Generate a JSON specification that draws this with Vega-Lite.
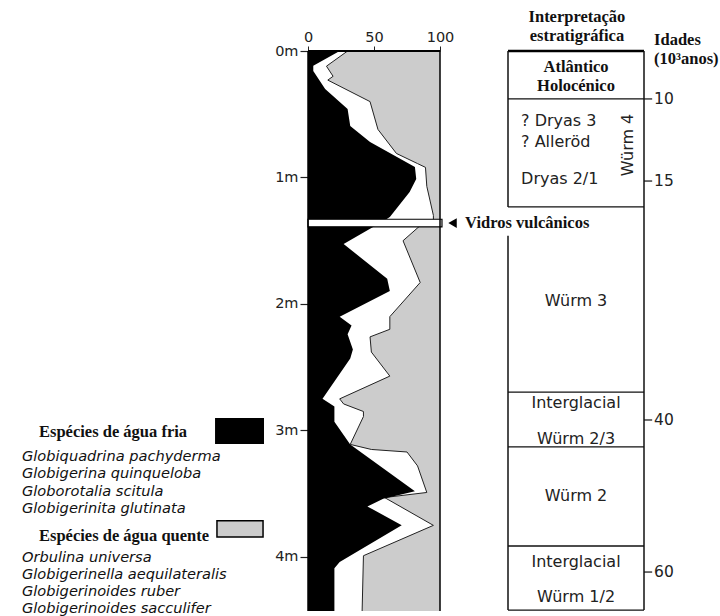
{
  "$schema": "https://vega.github.io/schema/vega-lite/v6.json",
  "padding": {"left": 0, "top": 8, "right": 0, "bottom": 0},
  "background": "white",
  "bounds": "flush",
  "spacing": 68,
  "config": {"view": {"stroke": null}, "font": "DejaVu Sans", "axis": {"grid": false}},
  "datasets": {
    "cold": [
      {"d": 0.0, "pct": 24}, {"d": 0.116, "pct": 4}, {"d": 0.158, "pct": 4}, {"d": 0.30, "pct": 13},
      {"d": 0.458, "pct": 30}, {"d": 0.593, "pct": 32}, {"d": 0.719, "pct": 47}, {"d": 0.917, "pct": 81},
      {"d": 1.012, "pct": 82}, {"d": 1.115, "pct": 77}, {"d": 1.312, "pct": 62}, {"d": 1.36, "pct": 55},
      {"d": 1.40, "pct": 48}, {"d": 1.526, "pct": 27}, {"d": 1.80, "pct": 60}, {"d": 1.897, "pct": 62},
      {"d": 2.10, "pct": 24}, {"d": 2.17, "pct": 33}, {"d": 2.24, "pct": 30}, {"d": 2.36, "pct": 34},
      {"d": 2.43, "pct": 32}, {"d": 2.75, "pct": 11}, {"d": 2.81, "pct": 20}, {"d": 2.93, "pct": 20},
      {"d": 3.11, "pct": 32}, {"d": 3.48, "pct": 81}, {"d": 3.54, "pct": 57}, {"d": 3.60, "pct": 45},
      {"d": 3.75, "pct": 71}, {"d": 4.04, "pct": 24}, {"d": 4.09, "pct": 20}, {"d": 4.427, "pct": 20}
    ],
    "warm": [
      {"d": 0.0, "edge": 30}, {"d": 0.12, "edge": 14}, {"d": 0.20, "edge": 19}, {"d": 0.23, "edge": 15},
      {"d": 0.40, "edge": 47}, {"d": 0.62, "edge": 53}, {"d": 0.81, "edge": 67}, {"d": 0.89, "edge": 83},
      {"d": 0.92, "edge": 89}, {"d": 1.07, "edge": 90}, {"d": 1.30, "edge": 95}, {"d": 1.34, "edge": 95},
      {"d": 1.38, "edge": 85}, {"d": 1.50, "edge": 72}, {"d": 1.83, "edge": 85}, {"d": 2.10, "edge": 62},
      {"d": 2.20, "edge": 62}, {"d": 2.26, "edge": 47}, {"d": 2.38, "edge": 48}, {"d": 2.57, "edge": 62},
      {"d": 2.75, "edge": 24}, {"d": 2.79, "edge": 27}, {"d": 2.85, "edge": 42}, {"d": 2.89, "edge": 42},
      {"d": 3.11, "edge": 32}, {"d": 3.15, "edge": 48}, {"d": 3.17, "edge": 75}, {"d": 3.28, "edge": 83},
      {"d": 3.49, "edge": 90}, {"d": 3.53, "edge": 58}, {"d": 3.75, "edge": 95}, {"d": 3.99, "edge": 42},
      {"d": 4.427, "edge": 41}
    ],
    "legendHeads": [
      {"text": "Espécies de água fria", "line": 0},
      {"text": "Espécies de água quente", "line": 6.0}
    ],
    "legendSpecies": [
      {"text": "Globiquadrina pachyderma", "line": 1.45},
      {"text": "Globigerina quinqueloba", "line": 2.45},
      {"text": "Globorotalia scitula", "line": 3.45},
      {"text": "Globigerinita glutinata", "line": 4.45},
      {"text": "Orbulina universa", "line": 7.27},
      {"text": "Globigerinella aequilateralis", "line": 8.27},
      {"text": "Globigerinoides ruber", "line": 9.25},
      {"text": "Globigerinoides sacculifer", "line": 10.23}
    ],
    "boundaries": [
      {"d": 0.379}, {"d": 1.233}, {"d": 2.696}, {"d": 3.130}, {"d": 3.913}, {"d": 4.42}
    ],
    "leftEdge": [
      {"from": 0, "to": 1.233}, {"from": 1.46, "to": 4.42}
    ],
    "unitsSerif": [
      {"label": "Atlântico", "d": 0.126}, {"label": "Holocénico", "d": 0.277}
    ],
    "unitsCenter": [
      {"label": "Würm 3", "d": 1.976}, {"label": "Interglacial", "d": 2.783},
      {"label": "Würm 2/3", "d": 3.067}, {"label": "Würm 2", "d": 3.518},
      {"label": "Interglacial", "d": 4.040}, {"label": "Würm 1/2", "d": 4.316}
    ],
    "unitsLeft": [
      {"label": "? Dryas 3", "d": 0.553}, {"label": "? Alleröd", "d": 0.719}, {"label": "Dryas 2/1", "d": 1.012}
    ],
    "ages": [
      {"age": "10", "d": 0.379}, {"age": "15", "d": 1.028}, {"age": "40", "d": 2.917}, {"age": "60", "d": 4.119}
    ],
    "headers": [
      {"label": "Interpretação", "d": -0.269}, {"label": "estratigráfica", "d": -0.119}
    ],
    "ageHeaders": [
      {"label": "Idades", "d": -0.085}, {"label": "(10³anos)", "d": 0.065}
    ]
  },
  "hconcat": [
    {
      "width": 240,
      "height": 560,
      "layer": [
        {
          "data": {"values": [{}]},
          "mark": {"type": "rect", "color": "black"},
          "encoding": {
            "x": {"datum": 89.6, "type": "quantitative", "scale": {"domain": [0, 100], "nice": false, "zero": false}, "axis": null},
            "x2": {"datum": 110},
            "y": {"datum": -0.81, "type": "quantitative", "scale": {"domain": [-22.02, 10.35], "nice": false, "zero": false, "reverse": true}, "axis": null},
            "y2": {"datum": 0.69}
          }
        },
        {
          "data": {"values": [{}]},
          "mark": {"type": "rect", "fill": "#cccccc", "stroke": "black", "strokeWidth": 1.5},
          "encoding": {
            "x": {"datum": 90.4, "type": "quantitative", "axis": null},
            "x2": {"datum": 109.6},
            "y": {"datum": 5.14, "type": "quantitative", "axis": null},
            "y2": {"datum": 6.07}
          }
        },
        {
          "data": {"name": "legendHeads"},
          "mark": {"type": "text", "align": "left", "baseline": "middle", "font": "Liberation Serif", "fontWeight": "bold", "fontSize": 16.5, "color": "#111"},
          "encoding": {
            "x": {"datum": 16.25, "type": "quantitative", "axis": null},
            "y": {"field": "line", "type": "quantitative", "axis": null},
            "text": {"field": "text"}
          }
        },
        {
          "data": {"name": "legendSpecies"},
          "mark": {"type": "text", "align": "left", "baseline": "middle", "font": "DejaVu Sans", "fontStyle": "italic", "fontSize": 14.6, "color": "#111"},
          "encoding": {
            "x": {"datum": 9.17, "type": "quantitative", "axis": null},
            "y": {"field": "line", "type": "quantitative", "axis": null},
            "text": {"field": "text"}
          }
        }
      ]
    },
    {
      "width": 132,
      "height": 560,
      "resolve": {"axis": {"x": "independent", "y": "independent"}},
      "layer": [
        {
          "data": {"name": "warm"},
          "mark": {"type": "area", "orient": "horizontal", "color": "#cccccc"},
          "encoding": {
            "y": {"field": "d", "type": "quantitative", "scale": {"domain": [0, 4.427], "nice": false, "zero": false, "reverse": true},
                  "axis": {"orient": "left", "values": [0, 1, 2, 3, 4], "labelExpr": "datum.value + 'm'", "domain": false, "tickSize": 8, "tickColor": "#222", "tickWidth": 1.2, "labelFontSize": 14.5, "labelPadding": 2, "labelColor": "#222", "title": null}},
            "x": {"field": "edge", "type": "quantitative", "scale": {"domain": [0, 100], "nice": false, "zero": false},
                  "axis": {"orient": "top", "values": [0, 50, 100], "domain": false, "tickSize": 5, "tickColor": "#222", "labelFontSize": 14.5, "labelPadding": 2, "labelColor": "#222", "labelFlush": false, "title": null}},
            "x2": {"datum": 100}
          }
        },
        {
          "data": {"name": "warm"},
          "mark": {"type": "line", "color": "#222", "strokeWidth": 1},
          "encoding": {
            "y": {"field": "d", "type": "quantitative", "axis": null},
            "x": {"field": "edge", "type": "quantitative", "axis": null},
            "order": {"field": "d"}
          }
        },
        {
          "data": {"name": "cold"},
          "mark": {"type": "area", "orient": "horizontal", "color": "black"},
          "encoding": {
            "y": {"field": "d", "type": "quantitative", "axis": null},
            "x": {"field": "pct", "type": "quantitative", "stack": null, "axis": null}
          }
        },
        {
          "data": {"values": [{"top": 1.33, "bottom": 1.39}]},
          "mark": {"type": "rect", "fill": "white", "stroke": "black", "strokeWidth": 1.2},
          "encoding": {
            "x": {"datum": 0, "type": "quantitative", "axis": null},
            "x2": {"datum": 101.5},
            "y": {"field": "top", "type": "quantitative", "axis": null},
            "y2": {"field": "bottom"}
          }
        },
        {
          "data": {"values": [{}]},
          "mark": {"type": "rule", "color": "black", "strokeWidth": 2.2},
          "encoding": {
            "x": {"datum": 0, "type": "quantitative", "axis": null},
            "x2": {"datum": 100},
            "y": {"datum": 0, "type": "quantitative", "axis": null}
          }
        },
        {
          "data": {"values": [{}]},
          "mark": {"type": "rule", "color": "black", "strokeWidth": 1.5},
          "encoding": {
            "x": {"datum": 100, "type": "quantitative", "axis": null},
            "y": {"datum": 0, "type": "quantitative", "axis": null},
            "y2": {"datum": 4.427}
          }
        },
        {
          "data": {"values": [{}]},
          "mark": {"type": "rule", "color": "black", "strokeWidth": 1.5},
          "encoding": {
            "x": {"datum": 0, "type": "quantitative", "axis": null},
            "y": {"datum": 0, "type": "quantitative", "axis": null},
            "y2": {"datum": 4.427}
          }
        },
        {
          "data": {"values": [{}]},
          "mark": {"type": "point", "shape": "triangle-left", "filled": true, "color": "black", "size": 95, "opacity": 1},
          "encoding": {
            "x": {"datum": 109.5, "type": "quantitative", "axis": null},
            "y": {"datum": 1.36, "type": "quantitative", "axis": null}
          }
        },
        {
          "data": {"values": [{"label": "Vidros vulcânicos"}]},
          "mark": {"type": "text", "align": "left", "baseline": "middle", "font": "Liberation Serif", "fontWeight": "bold", "fontSize": 16.5, "color": "#111"},
          "encoding": {
            "x": {"datum": 119, "type": "quantitative", "axis": null},
            "y": {"datum": 1.36, "type": "quantitative", "axis": null},
            "text": {"field": "label"}
          }
        }
      ]
    },
    {
      "width": 136,
      "height": 560,
      "layer": [
        {
          "data": {"values": [{}]},
          "mark": {"type": "rule", "color": "black", "strokeWidth": 2.5},
          "encoding": {
            "x": {"datum": 0, "type": "quantitative", "scale": {"domain": [0, 1], "nice": false, "zero": false}, "axis": null},
            "x2": {"datum": 1},
            "y": {"datum": 0, "type": "quantitative", "scale": {"domain": [0, 4.427], "nice": false, "zero": false, "reverse": true}, "axis": null}
          }
        },
        {
          "data": {"name": "boundaries"},
          "mark": {"type": "rule", "color": "#111", "strokeWidth": 1.3},
          "encoding": {
            "x": {"datum": 0, "type": "quantitative", "axis": null},
            "x2": {"datum": 1},
            "y": {"field": "d", "type": "quantitative", "axis": null}
          }
        },
        {
          "data": {"values": [{}]},
          "mark": {"type": "rule", "color": "#111", "strokeWidth": 1.5},
          "encoding": {
            "x": {"datum": 1, "type": "quantitative", "axis": null},
            "y": {"datum": 0, "type": "quantitative", "axis": null},
            "y2": {"datum": 4.42}
          }
        },
        {
          "data": {"name": "leftEdge"},
          "mark": {"type": "rule", "color": "#111", "strokeWidth": 1.5},
          "encoding": {
            "x": {"datum": 0, "type": "quantitative", "axis": null},
            "y": {"field": "from", "type": "quantitative", "axis": null},
            "y2": {"field": "to"}
          }
        },
        {
          "data": {"name": "ages"},
          "mark": {"type": "rule", "color": "#111", "strokeWidth": 1.2},
          "encoding": {
            "x": {"datum": 1, "type": "quantitative", "axis": null},
            "x2": {"datum": 1.06},
            "y": {"field": "d", "type": "quantitative", "axis": null}
          }
        },
        {
          "data": {"name": "ages"},
          "mark": {"type": "text", "align": "left", "baseline": "middle", "fontSize": 15.5, "color": "#222"},
          "encoding": {
            "x": {"datum": 1.074, "type": "quantitative", "axis": null},
            "y": {"field": "d", "type": "quantitative", "axis": null},
            "text": {"field": "age"}
          }
        },
        {
          "data": {"name": "unitsSerif"},
          "mark": {"type": "text", "align": "center", "baseline": "middle", "font": "Liberation Serif", "fontWeight": "bold", "fontSize": 16.5, "color": "#111"},
          "encoding": {
            "x": {"datum": 0.5, "type": "quantitative", "axis": null},
            "y": {"field": "d", "type": "quantitative", "axis": null},
            "text": {"field": "label"}
          }
        },
        {
          "data": {"name": "headers"},
          "mark": {"type": "text", "align": "center", "baseline": "middle", "font": "Liberation Serif", "fontWeight": "bold", "fontSize": 16.5, "color": "#111"},
          "encoding": {
            "x": {"datum": 0.507, "type": "quantitative", "axis": null},
            "y": {"field": "d", "type": "quantitative", "axis": null},
            "text": {"field": "label"}
          }
        },
        {
          "data": {"name": "ageHeaders"},
          "mark": {"type": "text", "align": "left", "baseline": "middle", "font": "Liberation Serif", "fontWeight": "bold", "fontSize": 16.5, "color": "#111"},
          "encoding": {
            "x": {"datum": 1.074, "type": "quantitative", "axis": null},
            "y": {"field": "d", "type": "quantitative", "axis": null},
            "text": {"field": "label"}
          }
        },
        {
          "data": {"name": "unitsCenter"},
          "mark": {"type": "text", "align": "center", "baseline": "middle", "fontSize": 16, "color": "#222"},
          "encoding": {
            "x": {"datum": 0.5, "type": "quantitative", "axis": null},
            "y": {"field": "d", "type": "quantitative", "axis": null},
            "text": {"field": "label"}
          }
        },
        {
          "data": {"name": "unitsLeft"},
          "mark": {"type": "text", "align": "left", "baseline": "middle", "fontSize": 16, "color": "#222"},
          "encoding": {
            "x": {"datum": 0.096, "type": "quantitative", "axis": null},
            "y": {"field": "d", "type": "quantitative", "axis": null},
            "text": {"field": "label"}
          }
        },
        {
          "data": {"values": [{"label": "Würm 4", "d": 0.743}]},
          "mark": {"type": "text", "align": "center", "baseline": "middle", "fontSize": 16, "angle": 270, "color": "#222"},
          "encoding": {
            "x": {"datum": 0.88, "type": "quantitative", "axis": null},
            "y": {"field": "d", "type": "quantitative", "axis": null},
            "text": {"field": "label"}
          }
        }
      ]
    }
  ]
}
